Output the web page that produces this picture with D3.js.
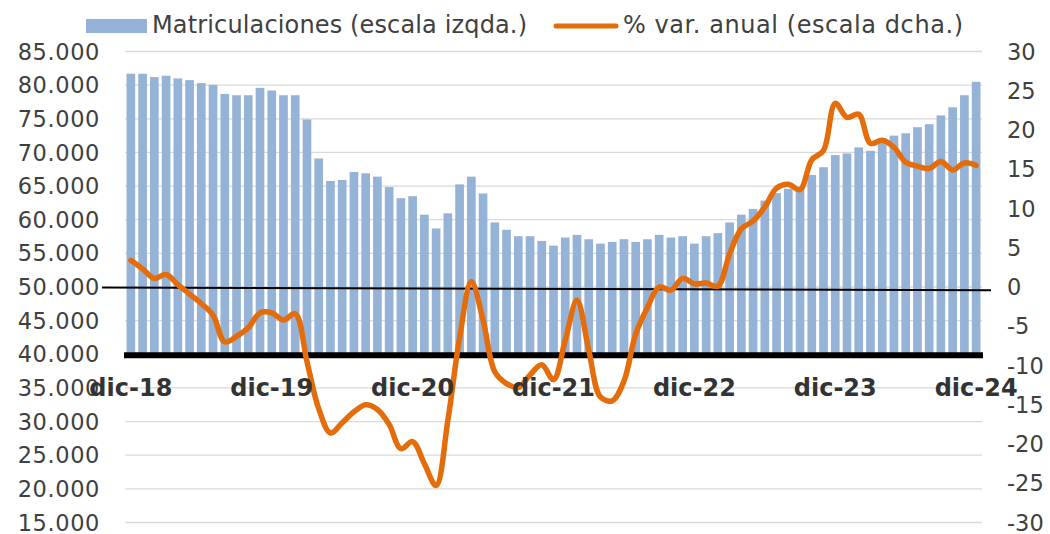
<!DOCTYPE html>
<html lang="es">
<head>
<meta charset="utf-8">
<title>Matriculaciones</title>
<script src="https://d3js.org/d3.v7.min.js"></script>
<style>
  html, body { margin: 0; padding: 0; background: #fff; }
  svg { display: block; font-family: "DejaVu Sans", Verdana, sans-serif; }
  .tick-l { font-size: 22.5px; letter-spacing: 0.6px; fill: #404040; }
  .tick-r { font-size: 22.5px; fill: #404040; }
  .tick-x { font-size: 24px; font-weight: bold; fill: #333; }
  .legend { font-size: 24px; fill: #404040; }
</style>
</head>
<body>
<script>
// months dic-18 .. dic-24
const monthNames = ["ene", "feb", "mar", "abr", "may", "jun", "jul", "ago", "sep", "oct", "nov", "dic"];
const months = ["dic-18"];
for (let y = 19; y <= 24; y++) monthNames.forEach(m => months.push(m + "-" + y));

// registrations, left axis
const registrations = [
  81700, 81700, 81200, 81400, 81000, 80750, 80300, 80050, 78700, 78500, 78500, 79600,
  79200, 78500, 78500, 74900, 69100, 65750, 65900, 67100, 66900, 66400, 64850, 63200,
  63500, 60750, 58700, 60950, 65250, 66400, 63900, 59600, 58500, 57550, 57550, 56850,
  56150, 57350, 57750, 57100, 56450, 56700, 57100, 56700, 57100, 57750, 57350, 57550,
  56450, 57550, 58000, 59600, 60750, 61600, 62850, 63950, 64600, 64600, 66650, 67800,
  69600, 69850, 70750, 70250, 72100, 72500, 72850, 73750, 74200, 75500, 76700, 78500,
  80500
];

// % annual change, right axis
const annualChange = [
  3.4, 2.3, 1.1, 1.6, 0.3, -0.9, -2.1, -3.6, -7.0, -6.3, -5.2, -3.3,
  -3.3, -4.2, -3.4, -9.5, -15.5, -18.6, -17.3, -15.9, -15.0, -15.6, -17.5, -20.6,
  -19.7, -22.5, -25.3, -17.0, -6.5, 0.7, -4.2, -10.8, -12.3, -12.8, -11.2, -9.9,
  -11.8, -6.8, -1.7, -8.0, -14.0, -14.5, -12.0, -6.0, -2.6, 0.0, -0.4, 1.1,
  0.4, 0.5, 0.1, 4.2, 7.4, 8.4, 10.2, 12.6, 13.1, 12.4, 16.2, 17.4,
  23.4, 21.6, 22.0, 18.3, 18.7, 17.8, 15.9, 15.4, 15.1, 16.0, 14.9, 15.8,
  15.5
];

const leftTicks = d3.range(15000, 85001, 5000);
const rightTicks = d3.range(-30, 31, 5);
const xLabels = ["dic-18", "dic-19", "dic-20", "dic-21", "dic-22", "dic-23", "dic-24"];
const barBase = 40000;
const legendLabels = ["Matriculaciones (escala izqda.)", "% var. anual (escala dcha.)"];

const width = 1050, height = 534;
const barColor = "#95b3d7", lineColor = "#e46c0a";

const svg = d3.select("body").append("svg")
  .attr("width", width)
  .attr("height", height);

const x = d3.scaleBand()
  .domain(months)
  .range([125, 982])
  .paddingInner(0.26)
  .paddingOuter(0.13);

const yL = d3.scaleLinear().domain([15000, 85000]).range([522.5, 51.5]);
const yR = d3.scaleLinear().domain([-30, 30]).range([522.5, 51.5]);

const esLocale = d3.formatLocale({ decimal: ",", thousands: ".", grouping: [3], currency: ["", "€"] });
const fmt = esLocale.format(",");

// gridlines
svg.append("g")
  .selectAll("line")
  .data(leftTicks)
  .join("line")
  .attr("x1", 125)
  .attr("x2", 982)
  .attr("y1", d => yL(d))
  .attr("y2", d => yL(d))
  .attr("stroke", "#d9d9d9")
  .attr("stroke-width", 1.3);

// bars
const data = months.map((m, i) => ({ m, v: registrations[i], p: annualChange[i] }));
svg.append("g")
  .selectAll("rect")
  .data(data)
  .join("rect")
  .attr("x", d => x(d.m))
  .attr("width", x.bandwidth())
  .attr("y", d => yL(d.v))
  .attr("height", d => yL(barBase) - yL(d.v))
  .attr("fill", barColor);

// thick category axis at 40.000
svg.append("line")
  .attr("x1", 124).attr("x2", 983)
  .attr("y1", yL(barBase) + 1).attr("y2", yL(barBase) + 1)
  .attr("stroke", "#000")
  .attr("stroke-width", 6);

// zero line of the right axis
svg.append("line")
  .attr("x1", 102).attr("x2", 991)
  .attr("y1", yR(0) + 0.5).attr("y2", yR(-0.4))
  .attr("stroke", "#000")
  .attr("stroke-width", 2);

// line series
const line = d3.line()
  .x(d => x(d.m) + x.bandwidth() / 2)
  .y(d => yR(d.p))
  .curve(d3.curveCatmullRom.alpha(0.5));

svg.append("path")
  .datum(data)
  .attr("d", line)
  .attr("fill", "none")
  .attr("stroke", lineColor)
  .attr("stroke-width", 5.5)
  .attr("stroke-linejoin", "round")
  .attr("stroke-linecap", "round");

// left axis labels
svg.append("g")
  .selectAll("text")
  .data(leftTicks)
  .join("text")
  .attr("class", "tick-l")
  .attr("x", 100)
  .attr("y", d => yL(d))
  .attr("dy", "0.36em")
  .attr("text-anchor", "end")
  .text(d => fmt(d));

// right axis labels
svg.append("g")
  .selectAll("text")
  .data(rightTicks)
  .join("text")
  .attr("class", "tick-r")
  .attr("x", 1007)
  .attr("y", d => yR(d))
  .attr("dy", "0.36em")
  .text(d => d);

// x labels
svg.append("g")
  .selectAll("text")
  .data(xLabels)
  .join("text")
  .attr("class", "tick-x")
  .attr("x", d => x(d) + x.bandwidth() / 2)
  .attr("y", 396)
  .attr("text-anchor", "middle")
  .text(d => d);

// legend
const lg = svg.append("g");
lg.append("rect")
  .attr("x", 86).attr("y", 19)
  .attr("width", 61).attr("height", 14)
  .attr("fill", barColor);
lg.append("text")
  .attr("class", "legend")
  .attr("x", 152).attr("y", 33)
  .attr("textLength", 375)
  .attr("lengthAdjust", "spacing")
  .text(legendLabels[0]);
lg.append("line")
  .attr("x1", 556).attr("x2", 616)
  .attr("y1", 26).attr("y2", 26)
  .attr("stroke", lineColor)
  .attr("stroke-width", 5)
  .attr("stroke-linecap", "round");
lg.append("text")
  .attr("class", "legend")
  .attr("x", 623).attr("y", 33)
  .attr("textLength", 340)
  .attr("lengthAdjust", "spacing")
  .text(legendLabels[1]);
</script>
</body>
</html>
